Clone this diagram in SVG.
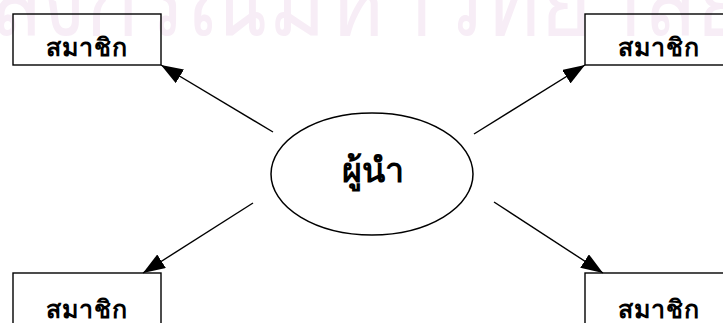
<svg xmlns="http://www.w3.org/2000/svg" width="723" height="323" viewBox="0 0 723 323">
<defs>
<style>
.wm{font-family:"Noto Sans",sans-serif;font-size:66px;fill:#f7edf6;}
.box{fill:none;stroke:#000;stroke-width:1.4;}
.lbl{font-family:"Noto Sans",sans-serif;font-size:25px;font-weight:bold;fill:#000;text-anchor:middle;letter-spacing:1px;}
.big{font-family:"Noto Sans",sans-serif;font-size:34px;font-weight:bold;fill:#000;text-anchor:middle;}
.con{stroke:#000;stroke-width:1.4;fill:none;marker-end:url(#ah);}
</style>
<marker id="ah" viewBox="0 0 22 16" refX="22" refY="8" markerWidth="22" markerHeight="16" orient="auto" markerUnits="userSpaceOnUse">
<path d="M0,0 L22,8 L0,16 z" fill="#000"/>
</marker>
</defs>
<rect width="723" height="323" fill="#fff"/>
<text class="wm" transform="translate(0,35) scale(1,1.6)" x="-12" y="0" textLength="760" lengthAdjust="spacingAndGlyphs">ลงกรณ์มหาวิทยาลัย</text>
<g id="connectors">
<line class="con" x1="273" y1="132" x2="161" y2="65"/>
<line class="con" x1="474" y1="134" x2="585" y2="65"/>
<line class="con" x1="253" y1="203" x2="143" y2="273"/>
<line class="con" x1="494" y1="202" x2="603" y2="273"/>
</g>
<g id="leader">
<ellipse cx="372" cy="174" rx="101" ry="61" fill="#fff" stroke="#000" stroke-width="1.5"/>
<text class="big" x="373" y="182">ผู้นำ</text>
</g>
<g id="member-tl">
<rect class="box" x="13" y="14" width="148" height="51"/>
<text class="lbl" x="87" y="56">สมาชิก</text>
</g>
<g id="member-tr">
<rect class="box" x="585" y="14" width="148" height="51"/>
<text class="lbl" x="659" y="56">สมาชิก</text>
</g>
<g id="member-bl">
<rect class="box" x="13" y="273" width="148" height="60"/>
<text class="lbl" x="87" y="318">สมาชิก</text>
</g>
<g id="member-br">
<rect class="box" x="585" y="273" width="148" height="60"/>
<text class="lbl" x="659" y="318">สมาชิก</text>
</g>
</svg>
